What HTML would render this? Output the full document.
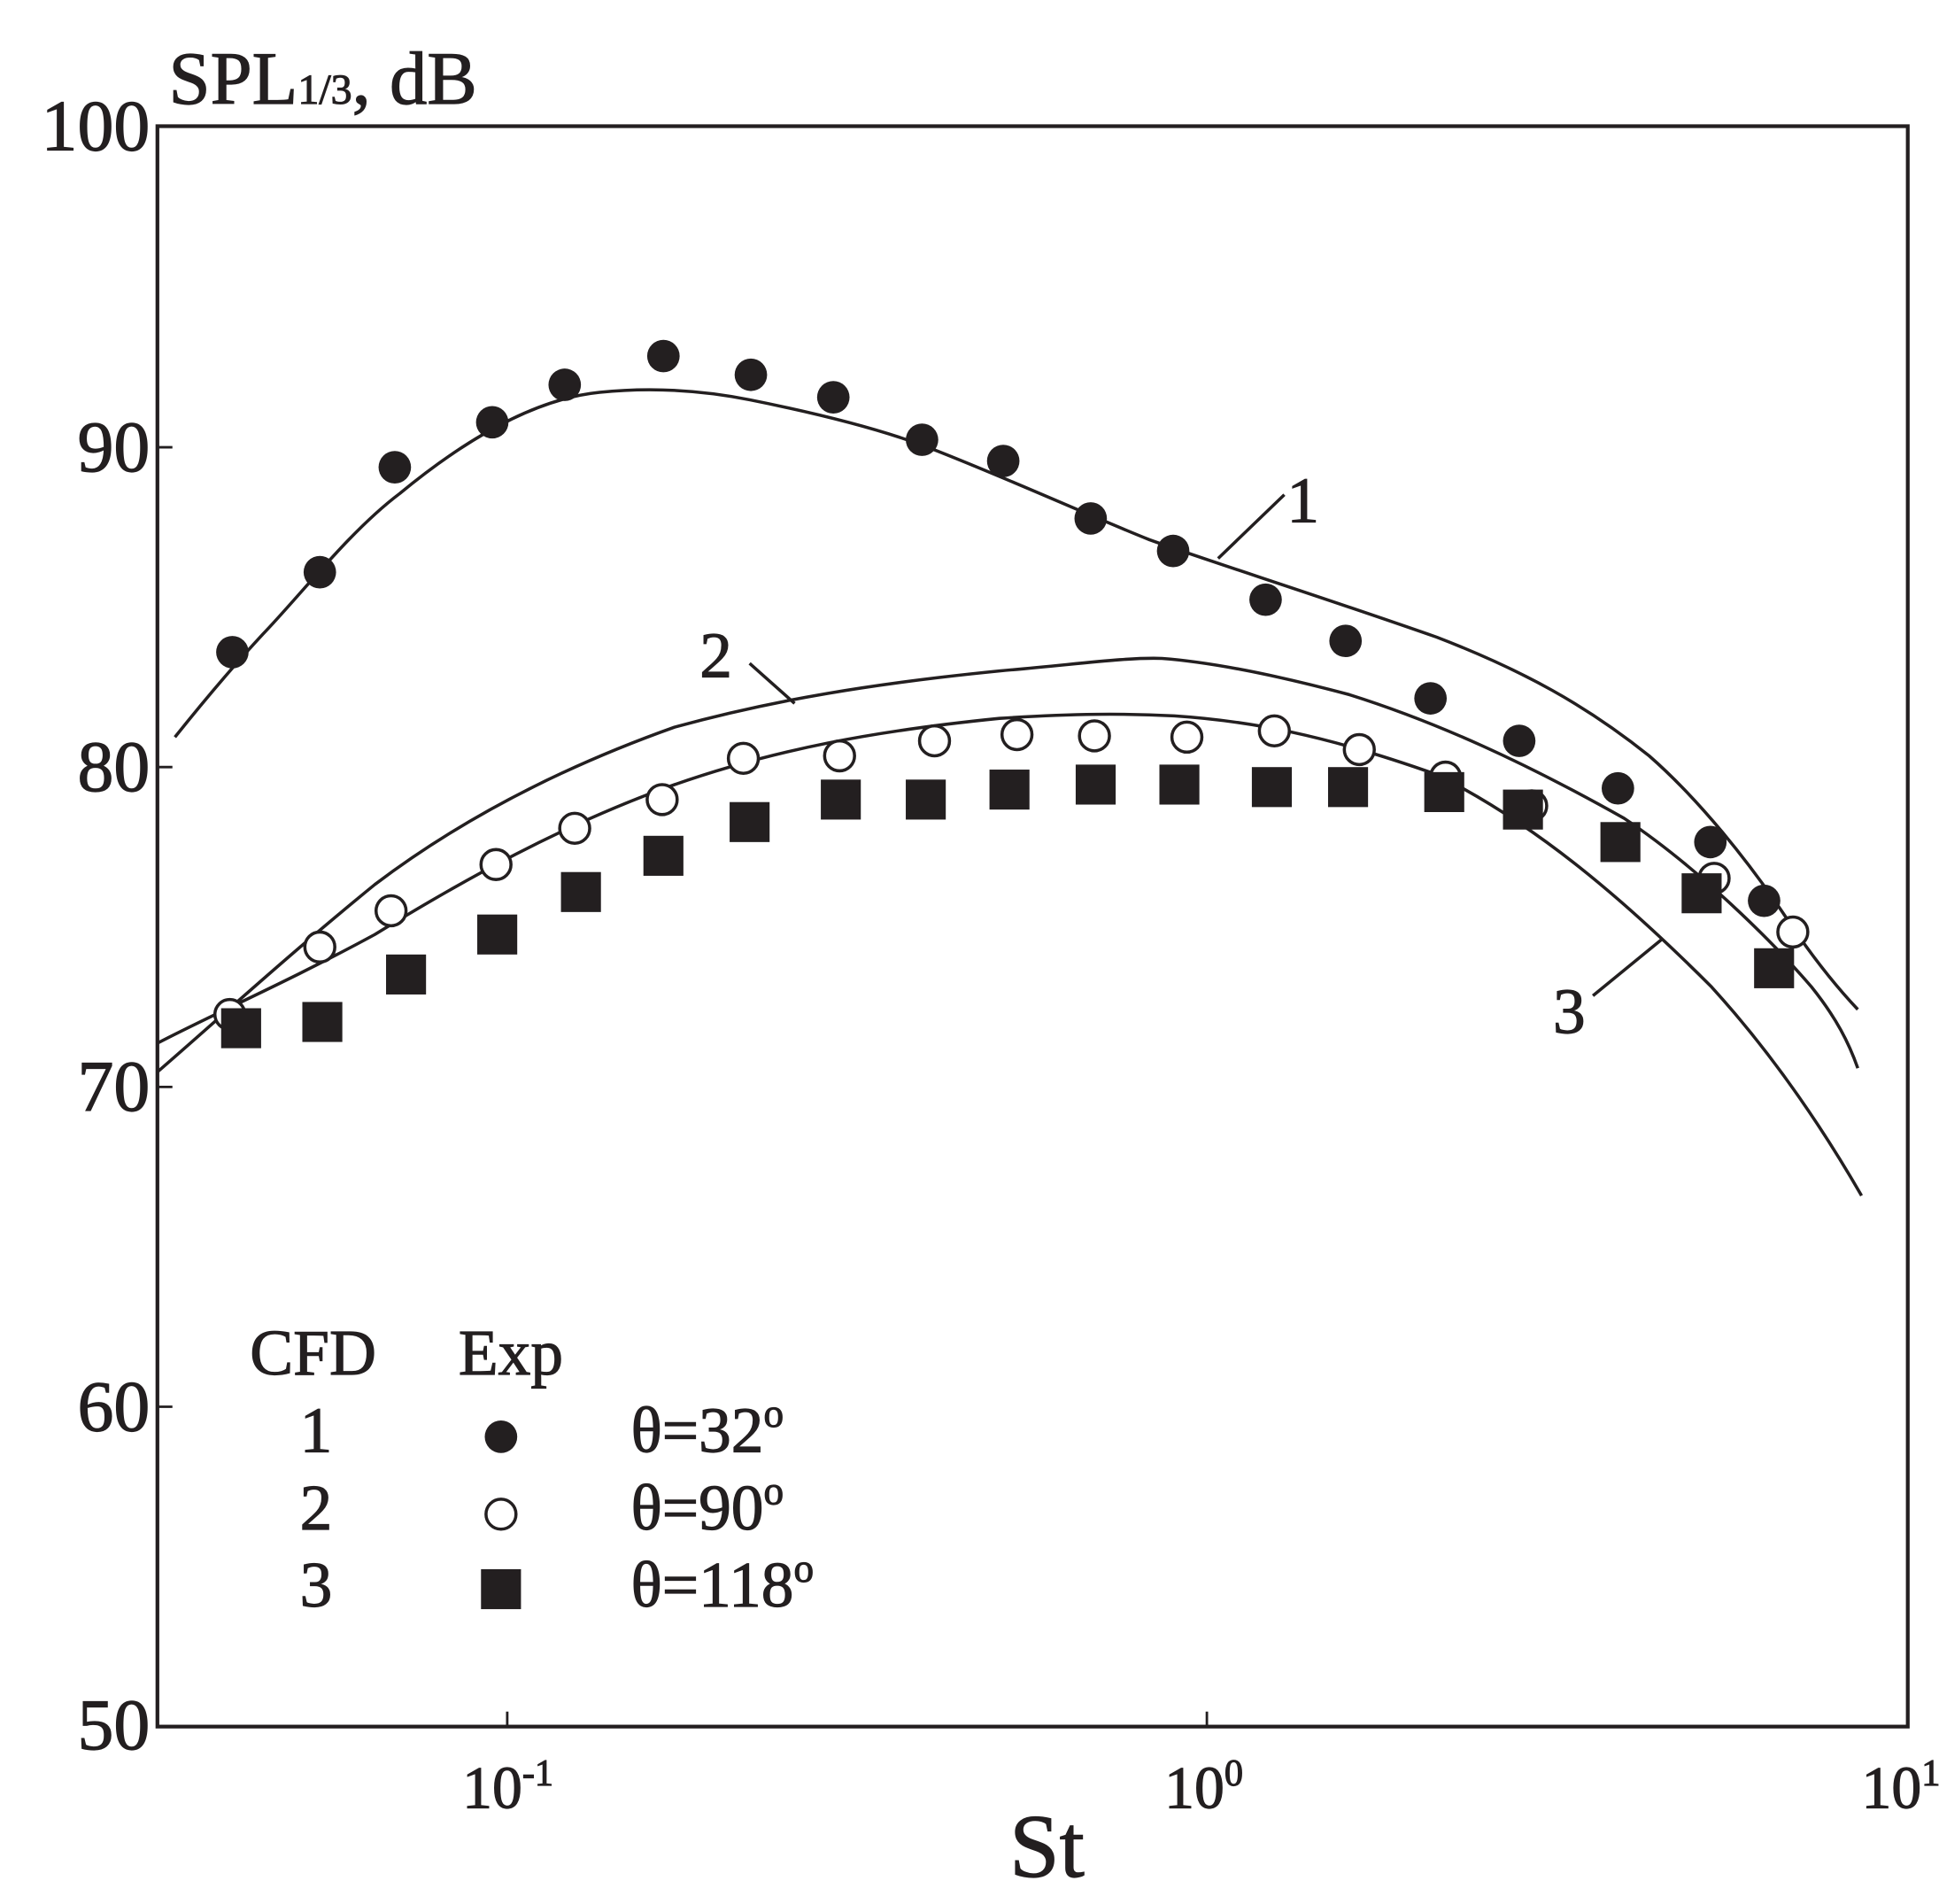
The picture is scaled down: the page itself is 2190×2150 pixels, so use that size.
<!DOCTYPE html>
<html><head><meta charset="utf-8"><style>html,body{margin:0;padding:0;background:#fff}svg{display:block}</style></head>
<body>
<svg width="2190" height="2150" viewBox="0 0 1552 1524" preserveAspectRatio="none" xmlns="http://www.w3.org/2000/svg" font-family="Liberation Serif, serif" fill="#231f20">
<rect x="126" y="101" width="1401" height="1281" fill="none" stroke="#231f20" stroke-width="3"/>
<g stroke="#231f20" stroke-width="2">
<line x1="126" y1="358" x2="138" y2="358"/><line x1="126" y1="614" x2="138" y2="614"/><line x1="126" y1="870" x2="138" y2="870"/><line x1="126" y1="1126" x2="138" y2="1126"/>
<line x1="406" y1="1382" x2="406" y2="1370"/><line x1="966" y1="1382" x2="966" y2="1370"/>
</g>
<g stroke="#231f20" stroke-width="0.8">
<g font-size="58" text-anchor="end">
<text x="120" y="120">100</text><text x="120" y="377">90</text><text x="120" y="633">80</text><text x="120" y="889">70</text><text x="120" y="1145">60</text><text x="120" y="1400">50</text>
</g>
<text x="135" y="83" font-size="60">SPL<tspan font-size="34">1/3</tspan>, dB</text>
<g font-size="48">
<text x="370" y="1447">10<tspan font-size="30" dy="-18">-1</tspan></text>
<text x="932" y="1447">10<tspan font-size="30" dy="-18">0</tspan></text>
<text x="1490" y="1447">10<tspan font-size="30" dy="-18">1</tspan></text>
</g>
<text x="838" y="1502" font-size="72" text-anchor="middle">St</text>
<g font-size="52"><text x="1030" y="418">1</text><text x="560" y="542">2</text><text x="1243" y="827">3</text></g>
<g font-size="52">
<text x="200" y="1100">CFD</text><text x="367" y="1100">Exp</text>
<text x="240" y="1162">1</text><text x="240" y="1224">2</text><text x="240" y="1286">3</text>
<text x="505" y="1162">θ=32<tspan font-size="32" dy="-20">o</tspan></text>
<text x="505" y="1224">θ=90<tspan font-size="32" dy="-20">o</tspan></text>
<text x="505" y="1286">θ=118<tspan font-size="32" dy="-20">o</tspan></text>
</g>
</g>
<g fill="none" stroke="#231f20" stroke-width="2.5">
<path d="M140,590 C160,565 185,535 210,508 C240,477 280,425 320,395 C360,362 420,320 480,314 C520,310 560,312 600,320 C650,330 700,342 740,357 C800,380 870,412 920,432 C970,450 1050,475 1150,510 C1220,537 1270,565 1320,605 C1360,640 1400,690 1430,735 C1450,765 1470,790 1487,808"/>
<path d="M126,858 C170,820 230,765 300,708 C370,655 450,614 540,582 C620,560 700,547 800,537 C860,532 900,526 930,527 C970,530 1020,540 1080,556 C1150,578 1220,610 1300,655 C1360,695 1420,755 1450,790 C1470,815 1480,835 1487,855"/>
<path d="M126,835 C170,812 230,786 300,748 C370,705 450,660 540,628 C620,600 700,585 800,575 C860,571 900,571 940,573 C1000,577 1060,588 1150,620 C1230,660 1300,720 1370,790 C1420,845 1460,905 1490,957"/>
<line x1="975" y1="447" x2="1028" y2="396"/>
<line x1="600" y1="531" x2="636" y2="563"/>
<line x1="1275" y1="797" x2="1330" y2="752"/>
</g>
<g>
<circle cx="186" cy="522" r="13"/><circle cx="256" cy="458" r="13"/><circle cx="316" cy="374" r="13"/><circle cx="394" cy="338" r="13"/><circle cx="452" cy="308" r="13"/><circle cx="531" cy="285" r="13"/><circle cx="601" cy="300" r="13"/><circle cx="667" cy="318" r="13"/><circle cx="738" cy="352" r="13"/><circle cx="803" cy="369" r="13"/><circle cx="873" cy="415" r="13"/><circle cx="939" cy="441" r="13"/><circle cx="1013" cy="480" r="13"/><circle cx="1077" cy="513" r="13"/><circle cx="1145" cy="559" r="13"/><circle cx="1216" cy="593" r="13"/><circle cx="1295" cy="631" r="13"/><circle cx="1369" cy="674" r="13"/><circle cx="1412" cy="721" r="13"/>
</g>
<g fill="#fff" stroke="#231f20" stroke-width="2.5">
<circle cx="184" cy="812" r="12"/><circle cx="256" cy="758" r="12"/><circle cx="313" cy="729" r="12"/><circle cx="397" cy="692" r="12"/><circle cx="460" cy="663" r="12"/><circle cx="530" cy="640" r="12"/><circle cx="595" cy="607" r="12"/><circle cx="672" cy="605" r="12"/><circle cx="748" cy="593" r="12"/><circle cx="814" cy="588" r="12"/><circle cx="876" cy="589" r="12"/><circle cx="950" cy="590" r="12"/><circle cx="1020" cy="585" r="12"/><circle cx="1088" cy="600" r="12"/><circle cx="1157" cy="622" r="12"/><circle cx="1226" cy="645" r="12"/><circle cx="1299" cy="672" r="12"/><circle cx="1372" cy="703" r="12"/><circle cx="1435" cy="746" r="12"/>
</g>
<g>
<rect x="177" y="807" width="32" height="32"/><rect x="242" y="802" width="32" height="32"/><rect x="309" y="764" width="32" height="32"/><rect x="382" y="732" width="32" height="32"/><rect x="449" y="698" width="32" height="32"/><rect x="515" y="669" width="32" height="32"/><rect x="584" y="642" width="32" height="32"/><rect x="657" y="624" width="32" height="32"/><rect x="725" y="624" width="32" height="32"/><rect x="792" y="616" width="32" height="32"/><rect x="861" y="612" width="32" height="32"/><rect x="928" y="612" width="32" height="32"/><rect x="1002" y="614" width="32" height="32"/><rect x="1063" y="614" width="32" height="32"/><rect x="1140" y="618" width="32" height="32"/><rect x="1203" y="632" width="32" height="32"/><rect x="1281" y="658" width="32" height="32"/><rect x="1346" y="699" width="32" height="32"/><rect x="1404" y="759" width="32" height="32"/>
</g>
<circle cx="401" cy="1150" r="13"/>
<circle cx="401" cy="1212" r="12" fill="#fff" stroke="#231f20" stroke-width="2.5"/>
<rect x="385" y="1256" width="32" height="32"/>
</svg>
</body></html>
